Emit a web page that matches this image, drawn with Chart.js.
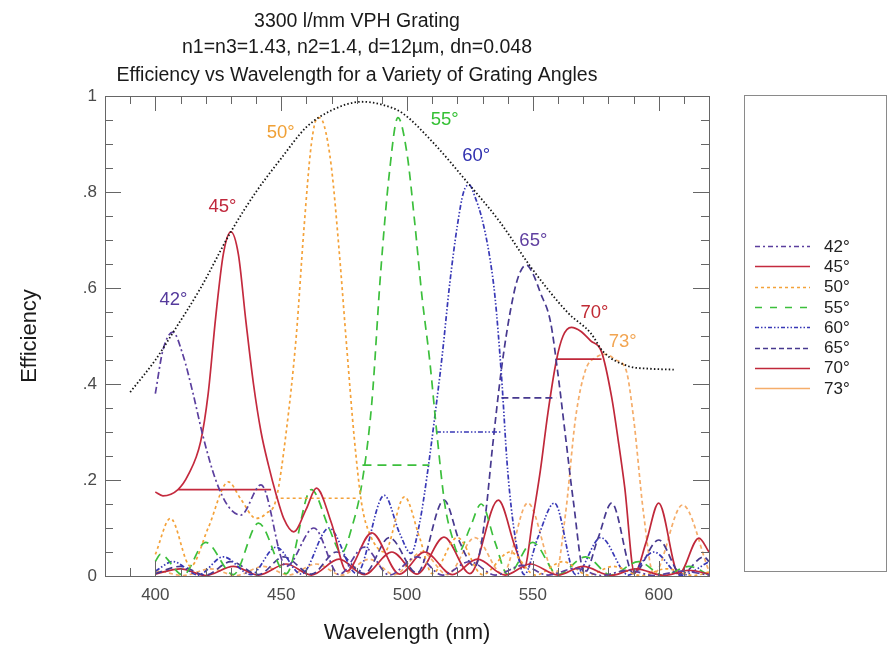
<!DOCTYPE html>
<html>
<head>
<meta charset="utf-8">
<title>3300 l/mm VPH Grating</title>
<script src="https://cdn.jsdelivr.net/npm/chart.js@4.4.1/dist/chart.umd.min.js"></script>
<style>
  html, body { margin: 0; padding: 0; background: #fff; }
  canvas { display: block; }
</style>
</head>
<body>
<canvas id="chart" width="888" height="648"></canvas>
<script>
// grating angles and their efficiency curves (wavelength in nm, efficiency 0..1)
const angles = ['42°', '45°', '50°', '55°', '60°', '65°', '70°', '73°'];

const wl42 = [400, 403, 407, 411, 415, 419, 424, 429, 434, 442, 452, 463, 473, 483, 493, 504, 514, 525, 535, 546, 556, 567, 577, 588, 598, 609, 620];
const eff42 = [0.38, 0.47, 0.508, 0.46, 0.38, 0.29, 0.20, 0.145, 0.127, 0.19, 0.02, 0.10, 0.003, 0.06, 0.002, 0.04, 0.002, 0.03, 0.002, 0.022, 0.002, 0.016, 0.001, 0.012, 0.001, 0.01, 0.002];

const wl45 = [400, 403, 409, 413, 418, 421, 424, 427, 430, 433, 436, 439, 442, 445, 448, 451, 455, 460, 464, 470, 476, 486, 497, 507, 518, 528, 539, 549, 560, 570, 581, 591, 602, 612, 620];
const eff45 = [0.175, 0.167, 0.18, 0.21, 0.28, 0.38, 0.54, 0.67, 0.717, 0.67, 0.53, 0.40, 0.30, 0.23, 0.17, 0.12, 0.092, 0.14, 0.183, 0.11, 0.01, 0.09, 0.004, 0.05, 0.003, 0.035, 0.002, 0.025, 0.002, 0.02, 0.001, 0.015, 0.001, 0.012, 0.004];

const wl50 = [400, 406, 414, 421, 429, 434, 440, 444, 448, 452, 456, 459, 462, 464.5, 467, 470, 473, 476, 479, 482, 485, 491, 499, 505, 510, 520, 530, 541, 551, 562, 572, 582, 593, 603, 614, 620];
const eff50 = [0.045, 0.12, 0.02, 0.10, 0.196, 0.16, 0.12, 0.13, 0.16, 0.30, 0.50, 0.72, 0.90, 0.955, 0.94, 0.85, 0.68, 0.48, 0.29, 0.15, 0.09, 0.05, 0.165, 0.08, 0.005, 0.08, 0.003, 0.05, 0.002, 0.03, 0.002, 0.02, 0.001, 0.015, 0.001, 0.008];

const wl55 = [400, 402, 411, 420, 431, 441, 452, 462, 469, 474, 478, 482, 486, 489.5, 493, 496.4, 500, 503, 506, 509, 512, 515, 518, 520.3, 525, 529.5, 535, 540, 550, 560, 571, 581, 592, 602, 612, 620];
const eff55 = [0.03, 0.045, 0.002, 0.07, 0.003, 0.11, 0.005, 0.18, 0.10, 0.048, 0.10, 0.19, 0.36, 0.63, 0.84, 0.955, 0.88, 0.74, 0.58, 0.45, 0.29, 0.15, 0.08, 0.048, 0.10, 0.15, 0.07, 0.003, 0.07, 0.003, 0.04, 0.002, 0.03, 0.001, 0.02, 0.002];

const wl60 = [400, 407, 417, 427, 438, 448, 458, 469, 480, 491, 497, 501.6, 505, 508, 511, 514, 517, 520, 522.5, 524.7, 527, 530, 533, 535, 537.5, 540, 543, 546.6, 552, 558.6, 567, 577, 588, 598, 609, 620];
const eff60 = [0.01, 0.03, 0.002, 0.04, 0.003, 0.06, 0.004, 0.10, 0.005, 0.168, 0.09, 0.047, 0.11, 0.21, 0.33, 0.46, 0.61, 0.73, 0.80, 0.815, 0.79, 0.74, 0.66, 0.58, 0.42, 0.22, 0.08, 0.003, 0.08, 0.152, 0.003, 0.08, 0.002, 0.05, 0.001, 0.03];

const wl65 = [400, 410, 420, 430, 441, 451, 462, 472, 483, 493, 504, 514.7, 521, 527, 531, 534, 537.5, 541, 544, 547.4, 550, 553, 557, 560, 563, 566, 570.5, 576, 581.3, 590, 600, 609, 618, 620];
const eff65 = [0.005, 0.02, 0.002, 0.03, 0.003, 0.04, 0.004, 0.05, 0.005, 0.08, 0.006, 0.158, 0.07, 0.02, 0.12, 0.27, 0.43, 0.55, 0.62, 0.648, 0.63, 0.59, 0.53, 0.42, 0.29, 0.16, 0.006, 0.08, 0.152, 0.005, 0.075, 0.004, 0.04, 0.03];

const wl70 = [400, 410, 420, 431, 441, 452, 462, 473, 483, 494, 504, 514.7, 525, 536.3, 543, 546.6, 550, 553, 556, 559.4, 562, 565.3, 569, 573, 577.3, 581.3, 584, 586.5, 590.4, 595, 600, 608, 616, 620];
const eff70 = [0.004, 0.015, 0.001, 0.02, 0.002, 0.025, 0.002, 0.035, 0.003, 0.05, 0.004, 0.081, 0.005, 0.158, 0.06, 0.017, 0.12, 0.22, 0.34, 0.45, 0.50, 0.518, 0.51, 0.49, 0.467, 0.373, 0.28, 0.185, 0.006, 0.07, 0.152, 0.004, 0.079, 0.05];

const wl73 = [400, 401, 411, 422, 432, 443, 453, 464, 474, 485, 495, 506, 516, 527, 538, 548, 559, 563, 567, 571, 575, 579, 583, 587, 590, 594, 598, 609.5, 620];
const eff73 = [0.008, 0.01, 0.001, 0.015, 0.001, 0.02, 0.002, 0.025, 0.002, 0.035, 0.003, 0.05, 0.003, 0.08, 0.004, 0.152, 0.004, 0.13, 0.33, 0.43, 0.455, 0.462, 0.45, 0.43, 0.33, 0.13, 0.004, 0.148, 0.01];

// flat bars across each main lobe
const bandStart = [null, 409, 449.8, 482.3, 511.5, 537.5, 559.4, null];
const bandEnd = [null, 446, 480.5, 508.9, 537.5, 559.4, 577.3, null];
const bandLevel = [null, 0.18, 0.162, 0.231, 0.30, 0.371, 0.452, null];

// dotted envelope over the peaks
const envWl = [390, 400, 407, 418, 430, 440, 450, 460, 470, 482, 490, 498, 510, 524, 537, 549, 564, 573, 578, 588, 596, 606];
const envEff = [0.383, 0.45, 0.507, 0.60, 0.717, 0.80, 0.87, 0.935, 0.97, 0.988, 0.982, 0.965, 0.905, 0.82, 0.737, 0.645, 0.548, 0.506, 0.467, 0.437, 0.432, 0.43];

// peak annotations
const peakWl = [407.2, 426.7, 449.8, 515.0, 527.5, 550.2, 574.5, 585.7];
const peakEff = [0.575, 0.769, 0.923, 0.950, 0.875, 0.698, 0.548, 0.488];

const xTicks = [400, 450, 500, 550, 600];

const wls = [wl42, wl45, wl50, wl55, wl60, wl65, wl70, wl73];
const effs = [eff42, eff45, eff50, eff55, eff60, eff65, eff70, eff73];

const lineColors = ['#5b3f9e', '#c42a3e', '#f4a23a', '#3cbf3c', '#3838b6', '#47398f', '#c0283a', '#f5ad6a'];
const labelColors = ['#553a9c', '#c0283c', '#f0a035', '#34c034', '#3232b0', '#6040a0', '#c02a34', '#f2a552'];
const lineDash = [[7, 3, 2, 3], [], [3, 3], [9, 6], [5, 2, 1.5, 2, 1.5, 2], [7, 4], [], [4, 3]];
const legendDash = [[5, 3, 2, 3], [], [3, 3], [7, 8], [4, 2, 1.5, 2, 1.5, 2], [5, 3], [], []];

const FONT = "'Liberation Sans', Arial, Helvetica, sans-serif";

function curvePoints(i) {
  const pts = wls[i].map((x, k) => ({ x: x, y: effs[i][k] }));
  if (bandLevel[i] !== null) {
    // break the line, then the flat bar
    pts.push({ x: bandStart[i], y: null });
    pts.push({ x: bandStart[i], y: bandLevel[i] });
    pts.push({ x: bandEnd[i], y: bandLevel[i] });
  }
  return pts;
}

const datasets = [{
  label: 'envelope',
  data: envWl.map((x, k) => ({ x: x, y: envEff[k] })),
  borderColor: '#151515',
  borderWidth: 1.8,
  borderDash: [1.5, 2.2],
  cubicInterpolationMode: 'monotone',
  pointRadius: 0
}];
angles.forEach((a, i) => {
  datasets.push({
    label: a,
    data: curvePoints(i),
    borderColor: lineColors[i],
    borderWidth: 1.7,
    borderDash: lineDash[i],
    cubicInterpolationMode: 'monotone',
    spanGaps: false,
    pointRadius: 0
  });
});

const decor = {
  id: 'decor',
  afterDraw(chart) {
    const { ctx, chartArea: a } = chart;
    const x = chart.scales.x, y = chart.scales.y;
    ctx.save();

    // frame and inward ticks on all four sides
    ctx.strokeStyle = '#666';
    ctx.lineWidth = 1;
    ctx.strokeRect(a.left + 0.5, a.top + 0.5, a.right - a.left, a.bottom - a.top);
    ctx.beginPath();
    for (let v = 380; v <= 620; v += 10) {
      const px = Math.round(x.getPixelForValue(v)) + 0.5;
      const len = v % 50 === 0 ? 15 : 8;
      ctx.moveTo(px, a.top); ctx.lineTo(px, a.top + len);
      ctx.moveTo(px, a.bottom); ctx.lineTo(px, a.bottom - len);
    }
    for (let k = 0; k <= 20; k++) {
      const py = Math.round(y.getPixelForValue(k * 0.05)) + 0.5;
      const len = k % 4 === 0 ? 16 : 8;
      ctx.moveTo(a.left, py); ctx.lineTo(a.left + len, py);
      ctx.moveTo(a.right, py); ctx.lineTo(a.right - len, py);
    }
    ctx.stroke();

    // titles
    ctx.fillStyle = '#1a1a1a';
    ctx.textAlign = 'center';
    ctx.textBaseline = 'alphabetic';
    ctx.font = '19.5px ' + FONT;
    ctx.fillText('3300 l/mm VPH Grating', 357, 27);
    ctx.fillText('n1=n3=1.43, n2=1.4, d=12µm, dn=0.048', 357, 53);
    ctx.fillText('Efficiency vs Wavelength for a Variety of Grating Angles', 357, 81);

    // axis titles
    ctx.font = '22px ' + FONT;
    ctx.fillText('Wavelength (nm)', (a.left + a.right) / 2, 639);
    ctx.save();
    ctx.translate(36, 336);
    ctx.rotate(-Math.PI / 2);
    ctx.fillText('Efficiency', 0, 0);
    ctx.restore();

    // peak labels
    ctx.font = '18.5px ' + FONT;
    ctx.textBaseline = 'middle';
    angles.forEach((lab, i) => {
      ctx.fillStyle = labelColors[i];
      ctx.fillText(lab, x.getPixelForValue(peakWl[i]), y.getPixelForValue(peakEff[i]));
    });

    // legend box
    ctx.strokeStyle = '#8a8a8a';
    ctx.strokeRect(744.5, 95.5, 142, 476);
    ctx.font = '17px ' + FONT;
    ctx.textAlign = 'left';
    angles.forEach((lab, i) => {
      const ly = 246 + i * 20.3;
      ctx.strokeStyle = lineColors[i];
      ctx.lineWidth = 1.6;
      ctx.setLineDash(legendDash[i]);
      ctx.beginPath();
      ctx.moveTo(755, Math.round(ly) + 0.5);
      ctx.lineTo(810, Math.round(ly) + 0.5);
      ctx.stroke();
      ctx.setLineDash([]);
      ctx.fillStyle = '#222';
      ctx.fillText(lab, 824, ly + 1);
    });
    ctx.restore();
  }
};

new Chart(document.getElementById('chart'), {
  type: 'line',
  data: { datasets: datasets },
  options: {
    responsive: false,
    animation: false,
    events: [],
    devicePixelRatio: 1,
    layout: { padding: { left: 55, right: 179, top: 96, bottom: 42 } },
    plugins: { legend: { display: false }, tooltip: { enabled: false }, title: { display: false } },
    scales: {
      x: {
        type: 'linear',
        min: 380,
        max: 620,
        afterFit: s => { s.height = 30; },
        grid: { display: false, drawTicks: false },
        border: { display: false },
        ticks: {
          stepSize: 50,
          padding: 9,
          autoSkip: false,
          maxRotation: 0,
          color: '#4a4a4a',
          font: { family: FONT, size: 17 },
          callback: v => (xTicks.includes(v) ? String(v) : '')
        }
      },
      y: {
        min: 0,
        max: 1,
        afterFit: s => { s.width = 50; },
        grid: { display: false, drawTicks: false },
        border: { display: false },
        ticks: {
          stepSize: 0.2,
          padding: 8,
          color: '#4a4a4a',
          font: { family: FONT, size: 17 },
          callback: v => {
            const r = Math.round(v * 10) / 10;
            if (r === 0) return '0';
            if (r === 1) return '1';
            return '.' + Math.round(r * 10);
          }
        }
      }
    }
  },
  plugins: [decor]
});
</script>
</body>
</html>
